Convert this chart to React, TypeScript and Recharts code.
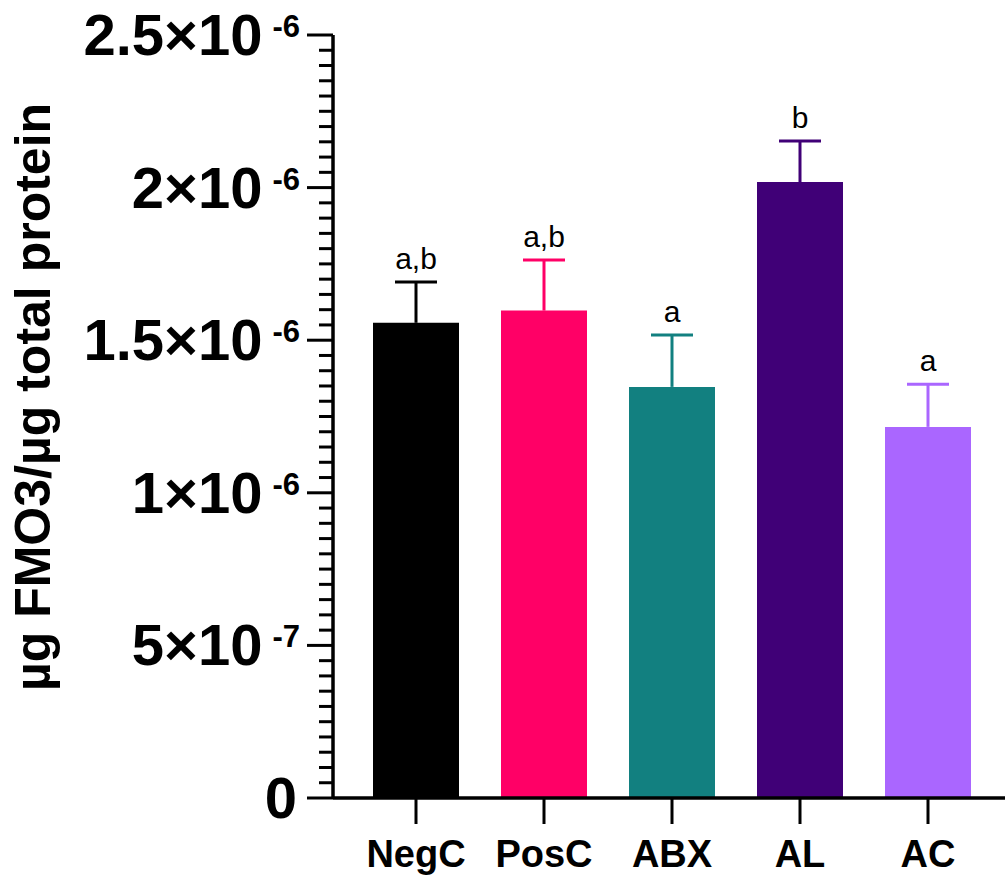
import { BarChart, Bar, XAxis, YAxis, Cell, LabelList } from "recharts";

const categories = ["NegC", "PosC", "ABX", "AL", "AC"];
const means = [1.557e-6, 1.597e-6, 1.347e-6, 2.018e-6, 1.216e-6];
const sds = [0.134e-6, 0.166e-6, 0.17e-6, 0.135e-6, 0.14e-6];
const letters = ["a,b", "a,b", "a", "b", "a"];
const barColors = ["#000000", "#ff0066", "#128080", "#400077", "#aa66ff"];

const majorTicks = [0, 5e-7, 1e-6, 1.5e-6, 2e-6, 2.5e-6];
const tickMantissas = ["0", "5", "1", "1.5", "2", "2.5"];
const tickExponents = ["", "-7", "-6", "-6", "-6", "-6"];
const minorSteps = 10;

const FONT = "'Liberation Sans', Arial, Helvetica, sans-serif";

const data = categories.map((name, i) => ({
  name,
  mean: means[i],
  sd: sds[i],
  letter: letters[i],
}));

const allTicks: number[] = [];
for (let i = 0; i < majorTicks.length - 1; i++) {
  const step = (majorTicks[i + 1] - majorTicks[i]) / minorSteps;
  for (let j = 0; j < minorSteps; j++) allTicks.push(majorTicks[i] + j * step);
}
allTicks.push(majorTicks[majorTicks.length - 1]);

function majorIndex(v: number) {
  return majorTicks.findIndex((m) => Math.abs(m - v) < 1e-12);
}

function YTick({ x, y, payload }: { x: number; y: number; payload: { value: number } }) {
  const idx = majorIndex(payload.value);
  if (idx < 0) {
    return <line x1={x - 14} x2={x} y1={y} y2={y} stroke="#000" strokeWidth={3} />;
  }
  const exp = tickExponents[idx];
  return (
    <g>
      <line x1={x - 26} x2={x} y1={y} y2={y} stroke="#000" strokeWidth={3} />
      {exp ? (
        <text x={x - 33} y={y + 20} textAnchor="end" fontFamily={FONT} fontWeight="bold" fill="#000">
          <tspan fontSize={58}>{tickMantissas[idx] + "×10"}</tspan>
          <tspan fontSize={31} dx={10} dy={-18}>{exp}</tspan>
        </text>
      ) : (
        <text x={x - 36} y={y + 20} textAnchor="end" fontFamily={FONT} fontWeight="bold" fontSize={58} fill="#000">
          {tickMantissas[idx]}
        </text>
      )}
    </g>
  );
}

function XTick({ x, y, payload }: { x: number; y: number; payload: { value: string } }) {
  return (
    <g>
      <line x1={x} x2={x} y1={y} y2={y + 26} stroke="#000" strokeWidth={3} />
      <text x={x} y={y + 69} textAnchor="middle" fontFamily={FONT} fontWeight="bold" fontSize={38} fill="#000">
        {payload.value}
      </text>
    </g>
  );
}

function ErrorShape(props: any) {
  const { x, y, width, height, fill } = props;
  const cx = x + width / 2;
  return (
    <g>
      <line x1={cx} x2={cx} y1={y} y2={y + height} stroke={fill} strokeWidth={3} />
      <line x1={cx - 21} x2={cx + 21} y1={y} y2={y} stroke={fill} strokeWidth={3} />
    </g>
  );
}

function LetterLabel(props: any) {
  const { x, y, width, value } = props;
  return (
    <text x={x + width / 2} y={y - 13} textAnchor="middle" fontFamily={FONT} fontSize={30} fill="#000">
      {value}
    </text>
  );
}

export default function App() {
  return (
    <div style={{ position: "absolute", left: 0, top: 0, width: 1005, height: 875, background: "#fff" }}>
      <BarChart
        width={1005}
        height={875}
        data={data}
        margin={{ top: 35, right: 0, bottom: 0, left: 0 }}
      >
        <XAxis
          dataKey="name"
          type="category"
          height={77}
          padding={{ left: 19, right: 13 }}
          tickSize={0}
          tickMargin={0}
          tickLine={false}
          axisLine={{ stroke: "#000", strokeWidth: 3.5 }}
          tick={XTick as any}
          interval={0}
        />
        <YAxis
          type="number"
          domain={[0, 2.5e-6]}
          ticks={allTicks}
          interval={0}
          width={333}
          tickSize={0}
          tickMargin={0}
          tickLine={false}
          axisLine={{ stroke: "#000", strokeWidth: 3.5 }}
          tick={YTick as any}
          allowDataOverflow
          label={{
            content: () => (
              <text
                x={50}
                y={397}
                transform="rotate(-90, 50, 397)"
                textAnchor="middle"
                fontFamily={FONT}
                fontWeight="bold"
                fontSize={50}
                fill="#000"
              >
                µg FMO3/µg total protein
              </text>
            ),
          }}
        />
        <Bar dataKey="mean" stackId="s" barSize={86} isAnimationActive={false}>
          {data.map((d, i) => (
            <Cell key={d.name} fill={barColors[i]} />
          ))}
        </Bar>
        <Bar dataKey="sd" stackId="s" barSize={86} isAnimationActive={false} shape={ErrorShape}>
          {data.map((d, i) => (
            <Cell key={d.name} fill={barColors[i]} />
          ))}
          <LabelList dataKey="letter" content={LetterLabel} />
        </Bar>
      </BarChart>
    </div>
  );
}
